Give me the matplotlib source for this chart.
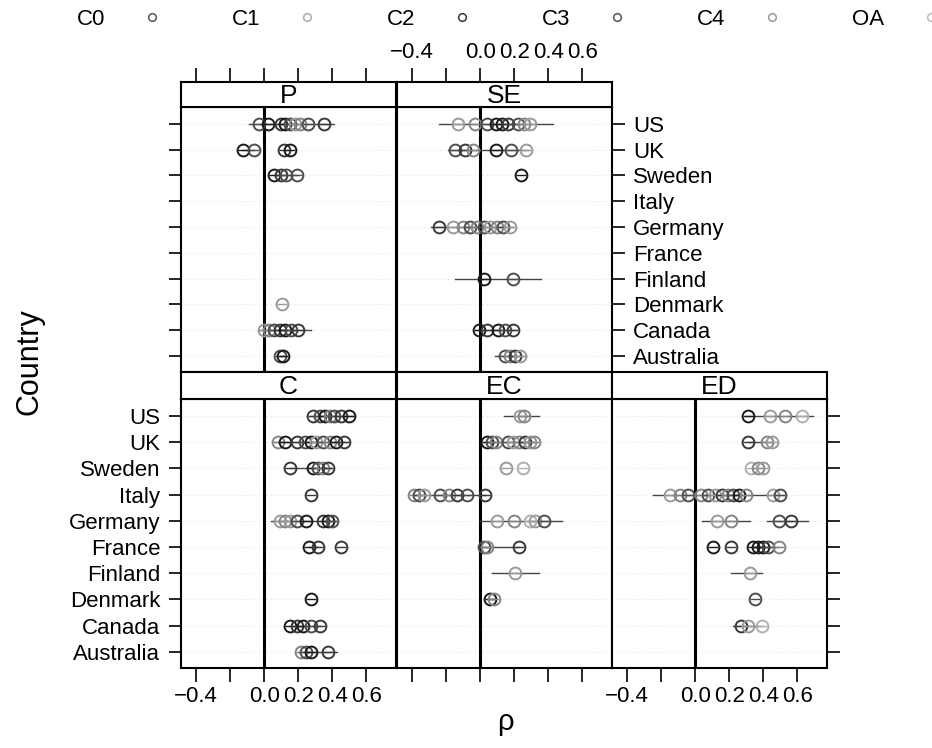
import matplotlib
matplotlib.use("Agg")
import matplotlib.pyplot as plt
from matplotlib.lines import Line2D

plt.rcParams.update({
    "font.family": ["Liberation Sans", "DejaVu Sans"],
    "font.size": 16,
    "axes.linewidth": 1.5,
})

# rows bottom -> top
COUNTRIES = ["Australia", "Canada", "Denmark", "Finland", "France",
             "Germany", "Italy", "Sweden", "UK", "US"]
GROUPS = ["C0", "C1", "C2", "C3", "C4", "OA"]
X_TICKS = [-0.4, -0.2, 0.0, 0.2, 0.4, 0.6]
X_TICKLABELS = ["\u22120.4", "", "0.0", "0.2", "0.4", "0.6"]

# (value, group) per country
P_POINTS = {
    "US": [(-0.03, "C0"), (0.02, "C2"), (0.10, "C3"), (0.12, "C2"), (0.15, "C0"),
           (0.18, "C1"), (0.21, "C4"), (0.26, "C0"), (0.35, "C3")],
    "UK": [(-0.125, "C2"), (-0.06, "C0"), (0.115, "C3"), (0.15, "C2")],
    "Sweden": [(0.06, "C2"), (0.10, "C3"), (0.13, "C0"), (0.19, "C0")],
    "Denmark": [(0.105, "C1")],
    "Canada": [(0.0, "C1"), (0.03, "C4"), (0.06, "C0"), (0.09, "C3"), (0.12, "C2"),
               (0.16, "C0"), (0.20, "C3")],
    "Australia": [(0.095, "C0"), (0.11, "C2")],
}
SE_POINTS = {
    "US": [(-0.13, "C1"), (-0.03, "C4"), (0.04, "C0"), (0.09, "C2"), (0.125, "C2"),
           (0.165, "C3"), (0.22, "C0"), (0.26, "C4"), (0.29, "C1")],
    "UK": [(-0.15, "C0"), (-0.09, "C3"), (-0.04, "C4"), (0.09, "C2"), (0.18, "C0"),
           (0.27, "C1")],
    "Sweden": [(0.24, "C2")],
    "Germany": [(-0.24, "C3"), (-0.16, "C1"), (-0.10, "C4"), (-0.06, "C0"), (-0.02, "C4"),
                (0.02, "C0"), (0.06, "C1"), (0.10, "C4"), (0.135, "C0"), (0.175, "C1")],
    "Finland": [(0.02, "C2"), (0.19, "C0")],
    "Canada": [(-0.01, "C2"), (0.04, "C3"), (0.105, "C2"), (0.145, "C0"), (0.19, "C3")],
    "Australia": [(0.145, "C0"), (0.175, "C4"), (0.205, "C3"), (0.235, "C1")],
}
C_POINTS = {
    "US": [(0.285, "C3"), (0.325, "C0"), (0.355, "C2"), (0.385, "C4"), (0.41, "C0"),
           (0.45, "C3"), (0.50, "C2")],
    "UK": [(0.08, "C4"), (0.12, "C2"), (0.19, "C3"), (0.24, "C0"), (0.275, "C2"),
           (0.305, "C1"), (0.345, "C0"), (0.385, "C4"), (0.42, "C2"), (0.47, "C3")],
    "Sweden": [(0.15, "C3"), (0.285, "C2"), (0.315, "C0"), (0.345, "C4"), (0.375, "C3")],
    "Italy": [(0.275, "C3")],
    "Germany": [(0.09, "C1"), (0.12, "C4"), (0.15, "C1"), (0.19, "C0"), (0.245, "C2"),
                (0.345, "C3"), (0.375, "C2"), (0.40, "C0")],
    "France": [(0.265, "C2"), (0.315, "C3"), (0.45, "C3")],
    "Denmark": [(0.275, "C2")],
    "Canada": [(0.15, "C2"), (0.19, "C3"), (0.225, "C2"), (0.275, "C0"), (0.325, "C3")],
    "Australia": [(0.215, "C4"), (0.245, "C0"), (0.275, "C2"), (0.375, "C3")],
}
EC_POINTS = {
    "US": [(0.235, "C1"), (0.255, "C4")],
    "UK": [(0.04, "C2"), (0.07, "C0"), (0.09, "C4"), (0.165, "C0"), (0.195, "C1"),
           (0.225, "C4"), (0.265, "C3"), (0.295, "C1"), (0.315, "C4")],
    "Sweden": [(0.15, "C1"), (0.25, "OA")],
    "Italy": [(-0.39, "C4"), (-0.36, "C0"), (-0.33, "C1"), (-0.235, "C0"), (-0.185, "C4"),
              (-0.135, "C3"), (-0.08, "C0"), (0.025, "C3")],
    "Germany": [(0.10, "C1"), (0.20, "C4"), (0.295, "OA"), (0.32, "C1"), (0.375, "C0")],
    "France": [(0.02, "C0"), (0.04, "C4"), (0.23, "C3")],
    "Finland": [(0.205, "C1")],
    "Denmark": [(0.06, "C2"), (0.08, "C4")],
}
ED_POINTS = {
    "US": [(0.31, "C2"), (0.44, "C1"), (0.53, "C4"), (0.625, "OA")],
    "UK": [(0.31, "C3"), (0.42, "C4"), (0.45, "C1")],
    "Sweden": [(0.33, "OA"), (0.37, "C4"), (0.40, "C1")],
    "Italy": [(-0.15, "C1"), (-0.09, "C4"), (-0.04, "C0"), (0.035, "C4"), (0.075, "C0"),
              (0.115, "C1"), (0.155, "C3"), (0.19, "C4"), (0.22, "C0"), (0.26, "C2"),
              (0.30, "C4"), (0.46, "C1"), (0.50, "C0")],
    "Germany": [(0.125, "C1"), (0.21, "C4"), (0.49, "C0"), (0.565, "C3")],
    "France": [(0.105, "C2"), (0.21, "C3"), (0.34, "C2"), (0.37, "C2"), (0.40, "C2"),
               (0.43, "C0"), (0.49, "C4")],
    "Finland": [(0.32, "C1")],
    "Denmark": [(0.35, "C0")],
    "Canada": [(0.27, "C3"), (0.31, "C1"), (0.39, "OA")],
}

# interval segments drawn through the points
P_CI = {"US": [(-0.09, 0.41)], "UK": [(-0.125, -0.06)], "Sweden": [(0.06, 0.19)],
        "Canada": [(-0.03, 0.275)], "Australia": [(0.095, 0.11)]}
SE_CI = {"US": [(-0.24, 0.43)], "UK": [(-0.19, 0.28)], "Germany": [(-0.29, 0.19)],
         "Finland": [(-0.15, 0.36)], "Canada": [(-0.03, 0.21)], "Australia": [(0.085, 0.27)]}
C_CI = {"US": [(0.27, 0.52)], "UK": [(0.06, 0.49)], "Sweden": [(0.15, 0.39)],
        "Germany": [(0.04, 0.42)], "France": [(0.265, 0.315)], "Canada": [(0.15, 0.325)],
        "Australia": [(0.20, 0.43)]}
EC_CI = {"US": [(0.14, 0.345)], "UK": [(0.02, 0.33)], "Italy": [(-0.39, 0.025)],
         "Germany": [(0.0, 0.48)], "France": [(0.0, 0.23)], "Finland": [(0.07, 0.345)],
         "Denmark": [(0.06, 0.08)]}
ED_CI = {"US": [(0.29, 0.69)], "UK": [(0.31, 0.45)], "Italy": [(-0.25, 0.52)],
         "Germany": [(0.04, 0.32), (0.42, 0.665)], "France": [(0.34, 0.49)],
         "Finland": [(0.21, 0.39)], "Canada": [(0.22, 0.39)]}

GROUP_COLORS = {"C0": "#4d4d4d", "C1": "#9a9a9a", "C2": "#1a1a1a",
                "C3": "#383838", "C4": "#858585", "OA": "#b0b0b0"}
LEGEND_COLORS = {"C0": "#555555", "C1": "#aaaaaa", "C2": "#333333",
                 "C3": "#555555", "C4": "#999999", "OA": "#bbbbbb"}

W, H = 932, 748
XLIM = (-0.49, 0.775)
YLIM = (0.38, 10.65)
COL_X = [181, 397, 612]
COL_W = 215
# (strip top, strip bottom, panel bottom) in pixels
ROW_Y = [(82, 107, 372), (372, 399, 668)]

PANELS = [
    ("P", 0, 0, P_POINTS, P_CI),
    ("SE", 0, 1, SE_POINTS, SE_CI),
    ("C", 1, 0, C_POINTS, C_CI),
    ("EC", 1, 1, EC_POINTS, EC_CI),
    ("ED", 1, 2, ED_POINTS, ED_CI),
]


def _frac(x0, y0, x1, y1):
    return [x0 / W, 1 - y1 / H, (x1 - x0) / W, (y1 - y0) / H]


fig = plt.figure(figsize=(W / 100, H / 100), dpi=100)

for name, row, col, points, ci in PANELS:
    st, sb, pb = ROW_Y[row]
    x0 = COL_X[col]
    ax = fig.add_axes(_frac(x0, sb, x0 + COL_W, pb))
    sax = fig.add_axes(_frac(x0, st, x0 + COL_W, sb))

    for i, _ in enumerate(COUNTRIES):
        ax.axhline(i + 1, color="#dcdcdc", lw=0.7, ls=(0, (1, 3)), zorder=1)
    ax.axvline(0, color="black", lw=2.2, zorder=2)

    for country, segs in ci.items():
        y = COUNTRIES.index(country) + 1
        for lo, hi in segs:
            ax.plot([lo, hi], [y, y], color="#444444", lw=1.0, zorder=3)

    for country, pts in points.items():
        y = COUNTRIES.index(country) + 1
        for v, g in pts:
            ax.plot(v, y, "o", ms=8.5, mfc="none", mec=GROUP_COLORS[g], mew=1.4, zorder=4)
            ax.plot(v, y, "_", ms=7, color=GROUP_COLORS[g], mew=1.0, zorder=4)

    ax.set_xlim(XLIM)
    ax.set_ylim(YLIM)
    sax.set_xlim(XLIM)
    sax.set_yticks([])
    sax.text(0.5, 0.45, name, transform=sax.transAxes, ha="center", va="center",
             fontsize=19)

    # x axis: top row ticks sit above the strip, bottom row below the panel
    ax.set_xticks(X_TICKS)
    ax.set_xticklabels(X_TICKLABELS)
    sax.set_xticks(X_TICKS)
    sax.set_xticklabels(X_TICKLABELS)
    if row == 0:
        ax.tick_params(axis="x", bottom=False, top=False, labelbottom=False, labeltop=False)
        sax.tick_params(axis="x", bottom=False, labelbottom=False, top=True,
                        labeltop=(name == "SE"), direction="out", length=10, width=1.2,
                        pad=4, labelsize=16)
    else:
        sax.tick_params(axis="x", bottom=False, top=False, labelbottom=False, labeltop=False)
        ax.tick_params(axis="x", bottom=True, labelbottom=(name in ("C", "ED")),
                       direction="out", length=10, width=1.2, pad=3, labelsize=16)

    # y axis
    ax.set_yticks(range(1, len(COUNTRIES) + 1))
    ax.set_yticklabels(COUNTRIES)
    if col == 0:
        ax.tick_params(axis="y", left=True, right=False, labelleft=(name == "C"),
                       labelright=False, direction="out", length=9, width=1.2,
                       pad=6, labelsize=16)
    elif name == "SE":
        ax.tick_params(axis="y", left=False, right=True, labelleft=False,
                       labelright=True, direction="out", length=9, width=1.2,
                       pad=6, labelsize=16)
    elif name == "ED":
        ax.tick_params(axis="y", left=False, right=True, labelleft=False,
                       labelright=False, direction="out", length=9, width=1.2)
    else:
        ax.tick_params(axis="y", left=False, right=False, labelleft=False, labelright=False)

handles = [Line2D([], [], ls="none", marker="o", ms=5.5, mfc="none",
                  mec=LEGEND_COLORS[g], mew=1.1) for g in GROUPS]
fig.legend(handles, GROUPS, loc="upper left", bbox_to_anchor=(77 / W, 1 - 9 / H),
           ncol=6, frameon=False, markerfirst=False, fontsize=16,
           handlelength=1.0, handletextpad=1.6, columnspacing=3.1,
           borderpad=0, borderaxespad=0)

fig.text(30 / W, 1 - 362 / H, "Country", rotation=90, ha="center", va="center",
         fontsize=22)
fig.text(505 / W, 1 - 722 / H, "\u03c1", ha="center", va="center", fontsize=21)

fig.savefig("out.png", dpi=100)
